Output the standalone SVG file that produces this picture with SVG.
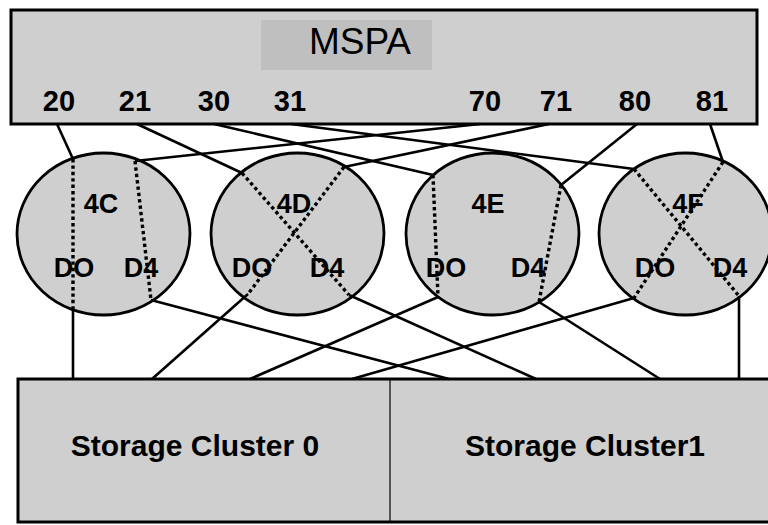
<svg xmlns="http://www.w3.org/2000/svg" width="768" height="525" viewBox="0 0 768 525">
<style>
.box{fill:#cfcfcf;stroke:#000;stroke-width:3}
.node{fill:#cfcfcf;stroke:#000;stroke-width:2.8}
.lbl{font-family:"Liberation Sans",Arial,sans-serif;font-weight:bold;fill:#000;text-anchor:middle}
.port{font-size:29px}
.nl{font-size:27px}
.sol{fill:none;stroke:#000;stroke-width:2.6}
.dot{fill:none;stroke:#000;stroke-width:3.4;stroke-dasharray:3.4 3}
</style>
<rect width="768" height="525" fill="#fff"/>
<g id="mspa">
<rect class="box" x="11" y="10" width="746" height="114"/>
<rect x="261" y="20" width="171" height="50" fill="#bfbfbf"/>
<text x="360" y="54" font-family="Liberation Sans,Arial,sans-serif" font-size="37" text-anchor="middle" fill="#000">MSPA</text>
<text class="lbl port" x="59" y="111">20</text>
<text class="lbl port" x="135" y="111">21</text>
<text class="lbl port" x="214" y="111">30</text>
<text class="lbl port" x="290" y="111">31</text>
<text class="lbl port" x="485" y="111">70</text>
<text class="lbl port" x="556" y="111">71</text>
<text class="lbl port" x="635" y="111">80</text>
<text class="lbl port" x="712" y="111">81</text>
</g>
<g id="storage">
<rect class="box" x="18" y="379" width="760" height="143"/>
<line x1="390" y1="379" x2="390" y2="522" stroke="#000" stroke-width="1.2"/>
<text class="lbl" x="195" y="456" font-size="30">Storage Cluster 0</text>
<text class="lbl" x="585" y="456" font-size="30">Storage Cluster1</text>
</g>
<g id="n4C">
<ellipse class="node" cx="103.5" cy="234" rx="86.5" ry="81"/>
<text class="lbl nl" x="101" y="213">4C</text>
<text class="lbl nl" x="74" y="277">DO</text>
<text class="lbl nl" x="141" y="277">D4</text>
</g>
<g id="n4D">
<ellipse class="node" cx="297.5" cy="234" rx="86.5" ry="81"/>
<text class="lbl nl" x="294" y="213">4D</text>
<text class="lbl nl" x="252" y="277">DO</text>
<text class="lbl nl" x="327" y="277">D4</text>
</g>
<g id="n4E">
<ellipse class="node" cx="492.5" cy="234" rx="86.5" ry="81"/>
<text class="lbl nl" x="488" y="213">4E</text>
<text class="lbl nl" x="446" y="277">DO</text>
<text class="lbl nl" x="528" y="277">D4</text>
</g>
<g id="n4F">
<ellipse class="node" cx="685.5" cy="234" rx="86.5" ry="81"/>
<text class="lbl nl" x="688" y="213">4F</text>
<text class="lbl nl" x="655" y="277">DO</text>
<text class="lbl nl" x="730" y="277">D4</text>
</g>
<g id="connectors">
<line class="sol" x1="57" y1="124" x2="73" y2="159"/>
<line class="sol" x1="137" y1="124" x2="242" y2="173"/>
<line class="sol" x1="214" y1="124" x2="433" y2="175"/>
<line class="sol" x1="291" y1="124" x2="634" y2="169"/>
<line class="sol" x1="480" y1="124" x2="135" y2="161"/>
<line class="sol" x1="549" y1="124" x2="344" y2="167"/>
<line class="sol" x1="637" y1="124" x2="561" y2="185"/>
<line class="sol" x1="710" y1="124" x2="723" y2="162"/>
<line class="dot" x1="73" y1="159" x2="73" y2="309"/>
<line class="dot" x1="135" y1="161" x2="151" y2="300"/>
<line class="dot" x1="344" y1="167" x2="248" y2="294"/>
<line class="dot" x1="242" y1="173" x2="349" y2="295"/>
<line class="dot" x1="433" y1="175" x2="438" y2="297"/>
<line class="dot" x1="561" y1="185" x2="539" y2="302"/>
<line class="dot" x1="723" y1="162" x2="634" y2="298"/>
<line class="dot" x1="634" y1="169" x2="739" y2="296"/>
<line class="sol" x1="73" y1="309" x2="73" y2="379"/>
<line class="sol" x1="151" y1="300" x2="449" y2="379"/>
<line class="sol" x1="248" y1="294" x2="152" y2="379"/>
<line class="sol" x1="349" y1="295" x2="536" y2="379"/>
<line class="sol" x1="438" y1="297" x2="250" y2="379"/>
<line class="sol" x1="539" y1="302" x2="660" y2="379"/>
<line class="sol" x1="634" y1="298" x2="352" y2="379"/>
<line class="sol" x1="739" y1="296" x2="739" y2="379"/>
</g>
</svg>
